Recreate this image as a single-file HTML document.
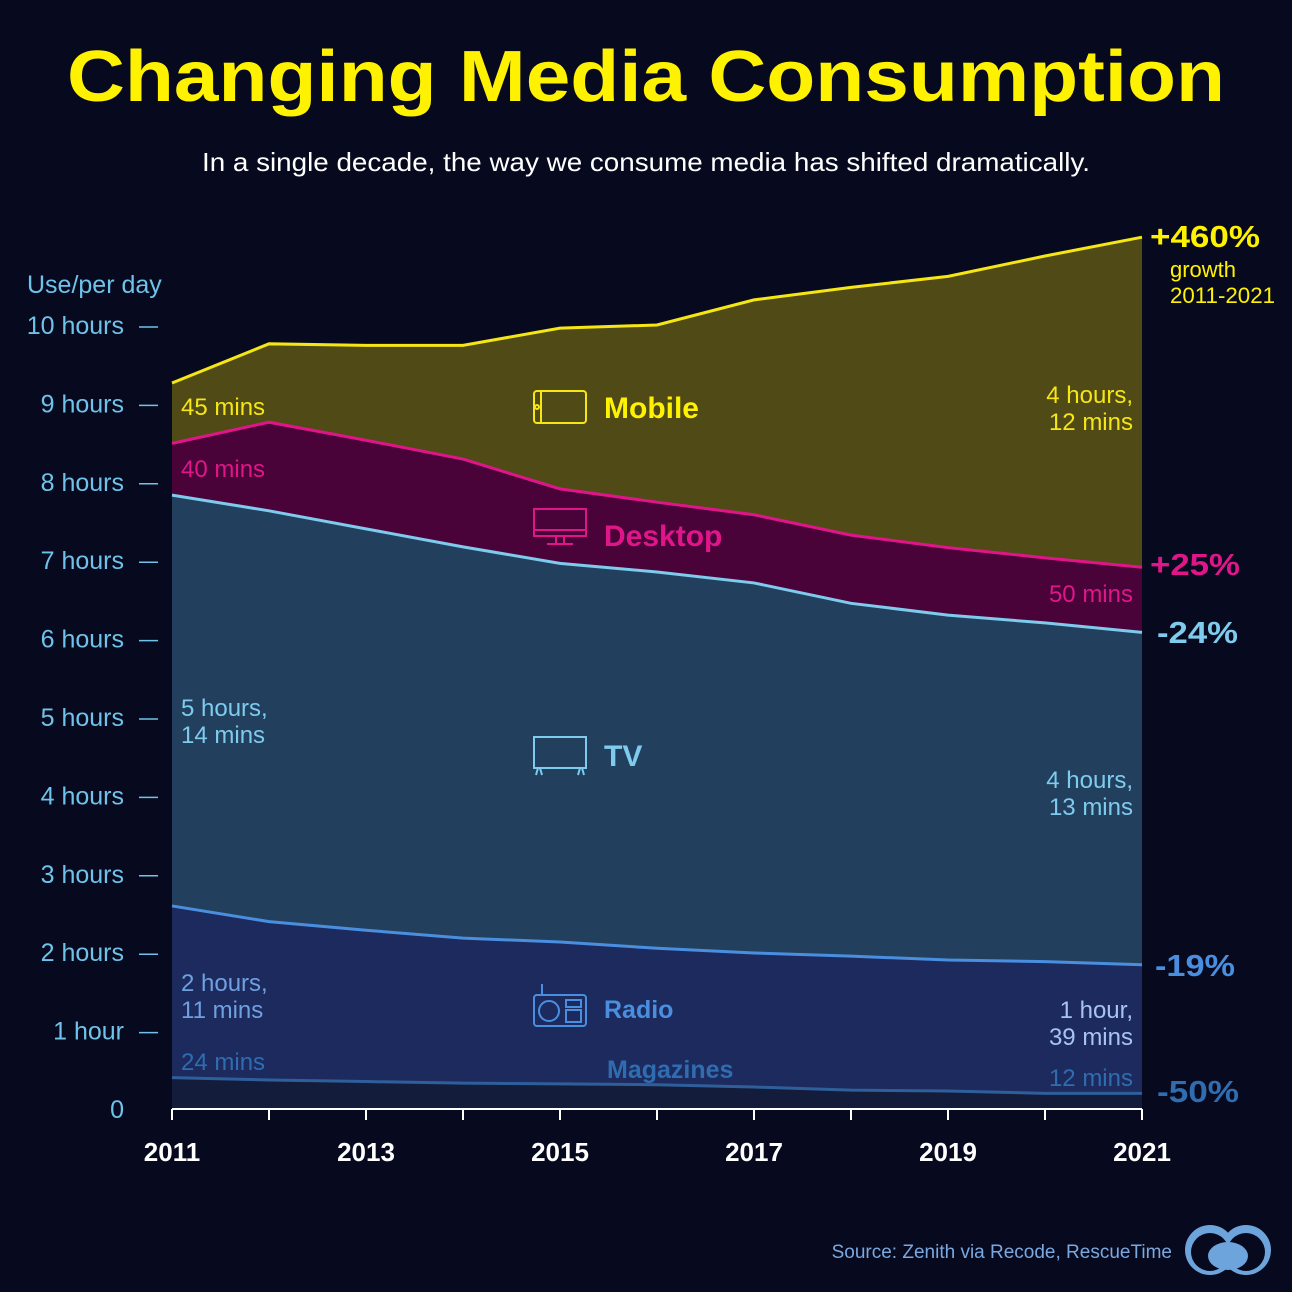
<!DOCTYPE html>
<html><head><meta charset="utf-8">
<style>
html,body{margin:0;padding:0;background:#070a1e;}
svg{display:block;font-family:"Liberation Sans",sans-serif;}
</style></head>
<body>
<svg id="chart" width="1292" height="1292" viewBox="0 0 1292 1292">
<rect width="1292" height="1292" fill="#070a1e"/>
<text x="646" y="101" text-anchor="middle" font-size="72" font-weight="bold" fill="#fff200" textLength="1158" lengthAdjust="spacingAndGlyphs">Changing Media Consumption</text>
<text x="646" y="171" text-anchor="middle" font-size="26" fill="#ffffff" textLength="888" lengthAdjust="spacingAndGlyphs">In a single decade, the way we consume media has shifted dramatically.</text>
<g id="areas"></g>
<g id="axes"></g>
<g id="labels">
<text x="27" y="293" font-size="25" fill="#6fc3ea">Use/per day</text>
<text x="1150" y="247" font-size="31" font-weight="bold" fill="#fff200" textLength="110" lengthAdjust="spacingAndGlyphs">+460%</text>
<text x="1170" y="277" font-size="22" fill="#fff200">growth</text>
<text x="1170" y="303" font-size="22" fill="#fff200" textLength="105" lengthAdjust="spacingAndGlyphs">2011-2021</text>
<text x="1150" y="575" font-size="31" font-weight="bold" fill="#e0158a" textLength="90" lengthAdjust="spacingAndGlyphs">+25%</text>
<text x="1157" y="643" font-size="31" font-weight="bold" fill="#7ecbee" textLength="81" lengthAdjust="spacingAndGlyphs">-24%</text>
<text x="1155" y="976" font-size="31" font-weight="bold" fill="#4a8ee0" textLength="80" lengthAdjust="spacingAndGlyphs">-19%</text>
<text x="1157" y="1102" font-size="31" font-weight="bold" fill="#2f6db0" textLength="82" lengthAdjust="spacingAndGlyphs">-50%</text>

<text x="181" y="415" font-size="24" fill="#f5e614">45 mins</text>
<text x="181" y="477" font-size="24" fill="#e0158a">40 mins</text>
<text x="181" y="716" font-size="24" fill="#7ecbee">5 hours,</text>
<text x="181" y="743" font-size="24" fill="#7ecbee">14 mins</text>
<text x="181" y="991" font-size="24" fill="#6fa0e0">2 hours,</text>
<text x="181" y="1018" font-size="24" fill="#6fa0e0">11 mins</text>
<text x="181" y="1070" font-size="24" fill="#2f6db0">24 mins</text>

<text x="1133" y="403" text-anchor="end" font-size="24" fill="#f5e614">4 hours,</text>
<text x="1133" y="430" text-anchor="end" font-size="24" fill="#f5e614">12 mins</text>
<text x="1133" y="602" text-anchor="end" font-size="24" fill="#e0158a">50 mins</text>
<text x="1133" y="788" text-anchor="end" font-size="24" fill="#7ecbee">4 hours,</text>
<text x="1133" y="815" text-anchor="end" font-size="24" fill="#7ecbee">13 mins</text>
<text x="1133" y="1018" text-anchor="end" font-size="24" fill="#a8c4ee">1 hour,</text>
<text x="1133" y="1045" text-anchor="end" font-size="24" fill="#a8c4ee">39 mins</text>
<text x="1133" y="1086" text-anchor="end" font-size="24" fill="#2f6db0">12 mins</text>

<g fill="none" stroke="#f5e614" stroke-width="2">
<rect x="534" y="391" width="52" height="32" rx="3"/><line x1="541" y1="391" x2="541" y2="423"/><circle cx="537" cy="407" r="2"/>
</g>
<text x="604" y="418" font-size="30" font-weight="bold" fill="#fff200">Mobile</text>
<g fill="none" stroke="#e0158a" stroke-width="2">
<rect x="534" y="509" width="52" height="27"/><line x1="534" y1="530" x2="586" y2="530"/><line x1="556" y1="536" x2="556" y2="543"/><line x1="564" y1="536" x2="564" y2="543"/><line x1="547" y1="544" x2="573" y2="544"/>
</g>
<text x="604" y="546" font-size="30" font-weight="bold" fill="#e0158a">Desktop</text>
<g fill="none" stroke="#7ecbee" stroke-width="2">
<rect x="534" y="737" width="52" height="31"/><path d="M538 768 L536 775 M540 768 L542 775 M582 768 L584 775 M580 768 L578 775"/>
</g>
<text x="604" y="766" font-size="30" font-weight="bold" fill="#7ecbee">TV</text>
<g fill="none" stroke="#4a8ee0" stroke-width="2">
<rect x="534" y="995" width="52" height="31" rx="3"/><circle cx="549" cy="1011" r="10"/><rect x="566" y="1000" width="15" height="7"/><rect x="566" y="1010" width="15" height="12"/><line x1="542" y1="995" x2="542" y2="984"/>
</g>
<text x="604" y="1018" font-size="25" font-weight="bold" fill="#4a8ee0">Radio</text>
<text x="607" y="1078" font-size="25" font-weight="bold" fill="#2f6db0">Magazines</text>

<text x="1172" y="1258" text-anchor="end" font-size="19" fill="#7aa8e0">Source: Zenith via Recode, RescueTime</text>
<g>
<circle cx="1210" cy="1250" r="25" fill="#6ea4dc"/><circle cx="1246" cy="1250" r="25" fill="#6ea4dc"/>
<circle cx="1210" cy="1252" r="19" fill="#070a1e"/><circle cx="1246" cy="1252" r="19" fill="#070a1e"/>
<ellipse cx="1228" cy="1256" rx="20" ry="14" fill="#6ea4dc"/>
</g>
</g>
<script>
const years = [2011,2012,2013,2014,2015,2016,2017,2018,2019,2020,2021];
const magazines = [0.40,0.37,0.35,0.33,0.32,0.31,0.28,0.24,0.23,0.20,0.20];
const radio = [2.19,2.02,1.93,1.85,1.81,1.74,1.71,1.71,1.67,1.68,1.64];
const tv = [5.24,5.24,5.12,4.99,4.83,4.80,4.72,4.50,4.40,4.32,4.24];
const desktop = [0.66,1.13,1.13,1.12,0.95,0.89,0.87,0.87,0.86,0.83,0.83];
const mobile = [0.77,1.00,1.21,1.45,2.05,2.26,2.74,3.16,3.46,3.85,4.21];
const yTicks = [0,1,2,3,4,5,6,7,8,9,10];
const yTickLabels = ["0","1 hour","2 hours","3 hours","4 hours","5 hours","6 hours","7 hours","8 hours","9 hours","10 hours"];
const xTickYears = [2011,2013,2015,2017,2019,2021];

const NS = "http://www.w3.org/2000/svg";
const xScale = y => 172 + (y - 2011) * 97;
const yScale = h => 1109 - h * 78.4;
const seriesList = [
 {name:"magazines", vals:magazines, fill:"#141c3c", stroke:"#2f5f9a"},
 {name:"radio", vals:radio, fill:"#1c2a5e", stroke:"#4a8ee0"},
 {name:"tv", vals:tv, fill:"#22405e", stroke:"#7ecbee"},
 {name:"desktop", vals:desktop, fill:"#4a0339", stroke:"#e0158a"},
 {name:"mobile", vals:mobile, fill:"#4f4a16", stroke:"#f5e614"}
];
const areas = document.getElementById('areas');
let base = years.map(() => 0);
const layers = [];
seriesList.forEach(s => {
  const top = base.map((b,i) => b + s.vals[i]);
  layers.push({s, top, base: base.slice()});
  base = top;
});
layers.forEach(l => {
  let d = "M" + years.map((y,i) => xScale(y) + "," + yScale(l.top[i])).join(" L");
  for (let i = years.length - 1; i >= 0; i--) d += " L" + xScale(years[i]) + "," + yScale(l.base[i]);
  d += "Z";
  const p = document.createElementNS(NS, "path");
  p.setAttribute("d", d);
  p.setAttribute("fill", l.s.fill);
  
  
  areas.appendChild(p);
});
layers.forEach(l => {
  const ln = document.createElementNS(NS, "polyline");
  ln.setAttribute("points", years.map((y,i) => xScale(y) + "," + yScale(l.top[i])).join(" "));
  ln.setAttribute("fill", "none");
  ln.setAttribute("stroke", l.s.stroke);
  ln.setAttribute("stroke-width", "3");
  
  
  areas.appendChild(ln);
});
const axes = document.getElementById('axes');
const xl = document.createElementNS(NS, "line");
xl.setAttribute("x1", 172); xl.setAttribute("x2", 1142);
xl.setAttribute("y1", 1109); xl.setAttribute("y2", 1109);
xl.setAttribute("stroke", "#ffffff"); xl.setAttribute("stroke-width", "2");


axes.appendChild(xl);
years.forEach(y => {
  const t = document.createElementNS(NS, "line");
  t.setAttribute("x1", xScale(y)); t.setAttribute("x2", xScale(y));
  t.setAttribute("y1", 1109); t.setAttribute("y2", 1120);
  t.setAttribute("stroke", "#ffffff"); t.setAttribute("stroke-width", "2");
  
  
  axes.appendChild(t);
});
xTickYears.forEach(y => {
  const t = document.createElementNS(NS, "text");
  t.setAttribute("x", xScale(y)); t.setAttribute("y", 1161);
  t.setAttribute("text-anchor", "middle"); t.setAttribute("font-size", "26");
  t.setAttribute("font-weight", "bold"); t.setAttribute("fill", "#ffffff");
  t.textContent = y;
  
  
  axes.appendChild(t);
});
yTicks.forEach((v,i) => {
  const t = document.createElementNS(NS, "text");
  t.setAttribute("x", 124); t.setAttribute("y", yScale(v) + 9);
  t.setAttribute("text-anchor", "end"); t.setAttribute("font-size", "25");
  t.setAttribute("fill", "#6fc3ea");
  t.textContent = yTickLabels[i];
  
  
  axes.appendChild(t);
  if (v > 0) {
    const m = document.createElementNS(NS, "line");
    m.setAttribute("x1", 139); m.setAttribute("x2", 158);
    m.setAttribute("y1", yScale(v) + 2); m.setAttribute("y2", yScale(v) + 2);
    m.setAttribute("stroke", "#6fc3ea"); m.setAttribute("stroke-width", "1.5");
    
    
    axes.appendChild(m);
  }
});
</script>
</svg>
</body></html>
